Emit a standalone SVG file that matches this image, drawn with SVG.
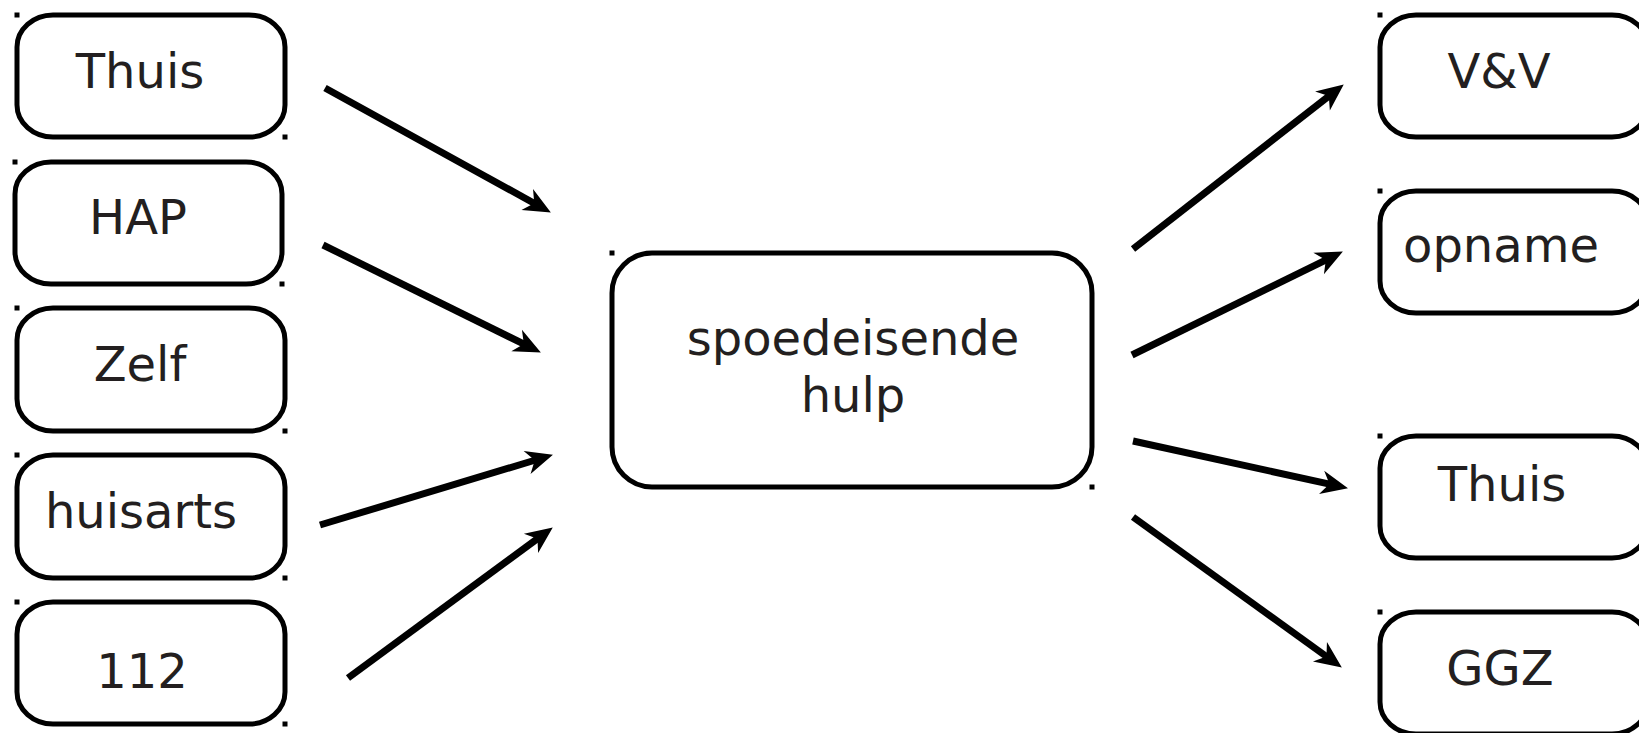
<svg xmlns="http://www.w3.org/2000/svg" width="1639" height="733" viewBox="0 0 1639 733">
<style>
.box{fill:#fff;stroke:#000;stroke-width:5}
.lbl{font-family:"DejaVu Sans","Liberation Sans",sans-serif;font-size:48px;fill:#231F20;text-anchor:middle}
.dot{fill:#000}
.edge{stroke:#000;stroke-width:7;fill:none;marker-end:url(#ah)}
</style>
<defs>
<marker id="ah" markerUnits="userSpaceOnUse" markerWidth="44" markerHeight="44" viewBox="-22 -22 44 44" refX="0" refY="0" orient="auto">
<path d="M13,0 L-14,-12 L-6,0 L-14,12 Z" fill="#000"/>
</marker>
</defs>
<rect width="1639" height="733" fill="#fff"/>
<g id="connectors">
<line class="edge" x1="325" y1="88" x2="539.5" y2="206.2"/>
<line class="edge" x1="323" y1="245" x2="529.2" y2="346.7"/>
<line class="edge" x1="320" y1="525" x2="540.5" y2="458.5"/>
<line class="edge" x1="348" y1="678" x2="542.3" y2="535.1"/>
<line class="edge" x1="1133" y1="249" x2="1333.5" y2="92.4"/>
<line class="edge" x1="1132" y1="355" x2="1331.2" y2="257.3"/>
<line class="edge" x1="1133" y1="441" x2="1335.3" y2="485.4"/>
<line class="edge" x1="1133" y1="517" x2="1331.3" y2="660"/>
</g>
<g id="n-thuis-in">
<rect class="box" x="17" y="15" width="268" height="122" rx="36" ry="32"/>
<text class="lbl" x="140" y="88">Thuis</text>
<rect class="dot" x="14.5" y="12.5" width="5" height="5"/><rect class="dot" x="282.5" y="134.5" width="5" height="5"/>
</g>
<g id="n-hap">
<rect class="box" x="15" y="162" width="267" height="122" rx="36" ry="32"/>
<text class="lbl" x="138" y="234">HAP</text>
<rect class="dot" x="12.5" y="159.5" width="5" height="5"/><rect class="dot" x="279.5" y="281.5" width="5" height="5"/>
</g>
<g id="n-zelf">
<rect class="box" x="17" y="308" width="268" height="123" rx="36" ry="32"/>
<text class="lbl" x="140" y="381">Zelf</text>
<rect class="dot" x="14.5" y="305.5" width="5" height="5"/><rect class="dot" x="282.5" y="428.5" width="5" height="5"/>
</g>
<g id="n-huisarts">
<rect class="box" x="17" y="455" width="268" height="123" rx="36" ry="32"/>
<text class="lbl" x="141" y="528">huisarts</text>
<rect class="dot" x="14.5" y="452.5" width="5" height="5"/><rect class="dot" x="282.5" y="575.5" width="5" height="5"/>
</g>
<g id="n-112">
<rect class="box" x="17" y="602" width="268" height="122" rx="36" ry="32"/>
<text class="lbl" x="142" y="688">112</text>
<rect class="dot" x="14.5" y="599.5" width="5" height="5"/><rect class="dot" x="282.5" y="721.5" width="5" height="5"/>
</g>
<g id="n-seh">
<rect class="box" x="612" y="253" width="480" height="234" rx="40" ry="40"/>
<text class="lbl" x="853" y="355">spoedeisende</text>
<text class="lbl" x="853" y="412">hulp</text>
<rect class="dot" x="609.5" y="250.5" width="5" height="5"/><rect class="dot" x="1089.5" y="484.5" width="5" height="5"/>
</g>
<g id="n-vv">
<rect class="box" x="1380" y="15" width="268" height="122" rx="36" ry="32"/>
<text class="lbl" x="1499" y="88">V&amp;V</text>
<rect class="dot" x="1377.5" y="12.5" width="5" height="5"/>
</g>
<g id="n-opname">
<rect class="box" x="1380" y="191" width="268" height="122" rx="36" ry="32"/>
<text class="lbl" x="1501" y="262">opname</text>
<rect class="dot" x="1377.5" y="188.5" width="5" height="5"/>
</g>
<g id="n-thuis-out">
<rect class="box" x="1380" y="436" width="268" height="122" rx="36" ry="32"/>
<text class="lbl" x="1502" y="501">Thuis</text>
<rect class="dot" x="1377.5" y="433.5" width="5" height="5"/>
</g>
<g id="n-ggz">
<rect class="box" x="1380" y="612" width="268" height="122" rx="36" ry="32"/>
<text class="lbl" x="1500" y="685">GGZ</text>
<rect class="dot" x="1377.5" y="609.5" width="5" height="5"/>
</g>
</svg>
